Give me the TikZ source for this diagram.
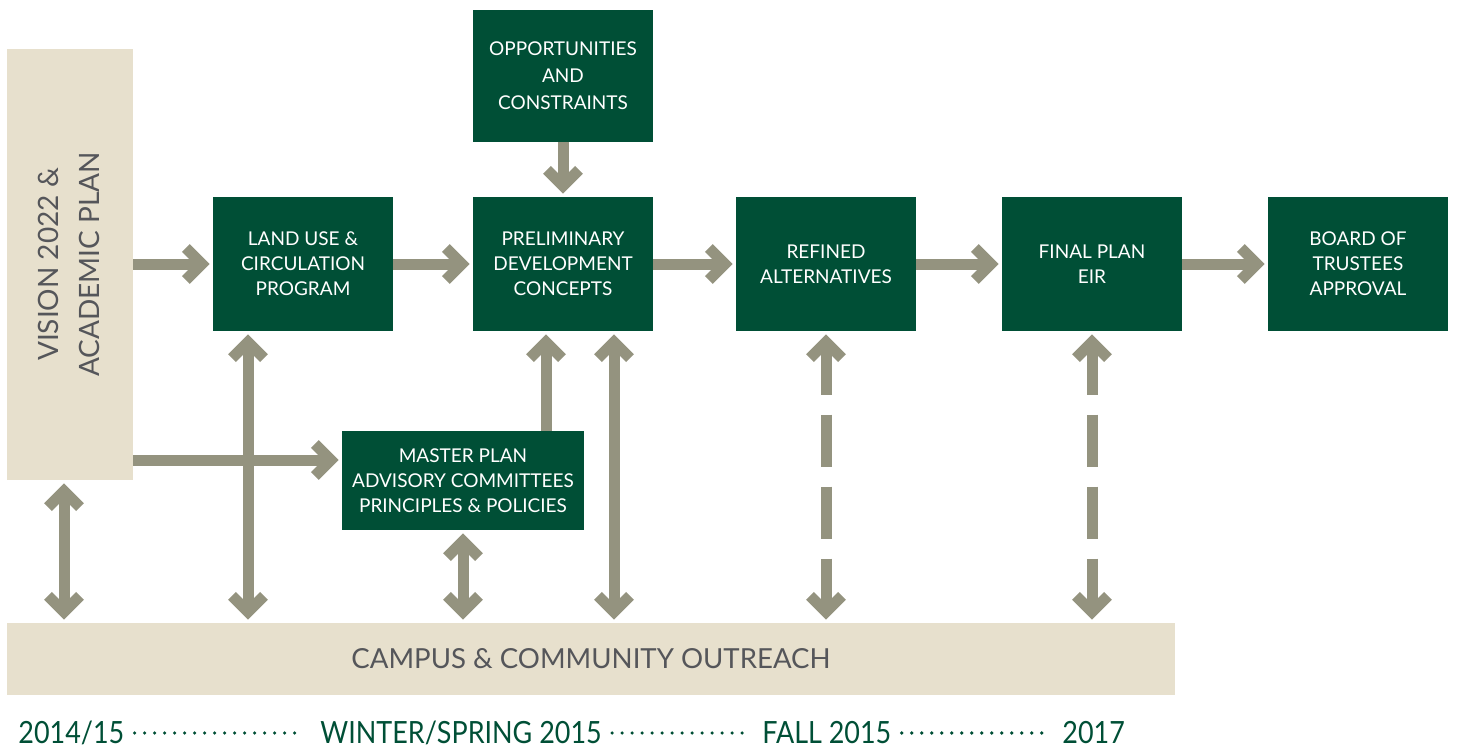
\documentclass[tikz,border=0pt]{standalone}
\usepackage{fontspec}
\setmainfont{Lato}
\newfontfamily\idofont[FakeStretch=0.88]{Lato}
\usetikzlibrary{arrows.meta}
\definecolor{zold}{HTML}{004F36}
\definecolor{homok}{HTML}{E7E0CD}
\definecolor{szurke}{HTML}{94937F}
\definecolor{felirat}{HTML}{55565A}

\begin{document}
\begin{tikzpicture}[x=0.5pt,y=-0.5pt,
>={Straight Barb[length=8pt,width=16pt,sharp]},
doboz/.style={rectangle,fill=zold,text=white,minimum width=90pt,minimum height=67pt,
  inner sep=0pt,align=center,font=\fontsize{9.5}{12.5}\selectfont},
hatter/.style={rectangle,fill=homok,text=felirat,inner sep=0pt,align=center,
  font=\fontsize{13.8}{20.5}\selectfont},
ido/.style={anchor=west,inner sep=0pt,text=zold,font=\idofont\fontsize{15.3}{15}\selectfont},
pontok/.style={draw=zold,line width=1.8pt,line cap=round,dash pattern=on 0pt off 5pt,
  shorten <=5pt,shorten >=9pt},
szaggatott/.style={dash pattern=on 23.5pt off 10pt on 26pt off 10pt on 26pt off 10pt on 60pt}]

\useasboundingbox (0,0) rectangle (1458,750);

\node[hatter,minimum width=63pt,minimum height=215.5pt](vision) at (70,264.5){};
\node[felirat,font=\fontsize{14}{20.5}\selectfont,align=center,rotate=90] at (69,264.5)
  {VISION 2022 \&\\ACADEMIC PLAN};
\node[hatter,minimum width=584pt,minimum height=36pt](outreach) at (591,659){CAMPUS \& COMMUNITY OUTREACH};

\node[doboz](landuse) at (303,264){LAND USE \&\\CIRCULATION\\PROGRAM};
\node[doboz](prelim) at (563,264){PRELIMINARY\\DEVELOPMENT\\CONCEPTS};
\node[doboz,minimum height=66pt,font=\fontsize{9.5}{13.5}\selectfont](opport) at (563,76)
  {OPPORTUNITIES\\AND\\CONSTRAINTS};
\node[doboz](refined) at (826,264){REFINED\\ALTERNATIVES};
\node[doboz](final) at (1092,264){FINAL PLAN\\EIR};
\node[doboz](board) at (1358,264){BOARD OF\\TRUSTEES\\APPROVAL};
\node[doboz,minimum width=121pt,minimum height=49.5pt](master) at (463,480.5)
  {MASTER PLAN\\ADVISORY COMMITTEES\\PRINCIPLES \& POLICIES};

\begin{scope}[draw=szurke,line width=5.5pt,shorten >=1.5pt]
\draw[->] (vision.east |- landuse.west)--(landuse.west);
\draw[->] (landuse)--(prelim);
\draw[->] (prelim)--(refined);
\draw[->] (refined)--(final);
\draw[->] (final)--(board);
\draw[->] (opport)--(prelim);
\draw[->] (vision.east |- 0,460)--([yshift=10.25pt]master.west);
\draw[->] ([xshift=41.5pt]master.north)--([xshift=41.5pt]master.north |- prelim.south);
\begin{scope}[shorten <=1.5pt]
\draw[<->] ([xshift=-3pt]vision.south)--([xshift=-3pt]vision.south |- outreach.north);
\draw[<->] ([xshift=-27.5pt]landuse.south)--([xshift=-27.5pt]landuse.south |- outreach.north);
\draw[<->] (master.south)--(master.south |- outreach.north);
\draw[<->] ([xshift=25.5pt]prelim.south)--([xshift=25.5pt]prelim.south |- outreach.north);
\draw[<->,szaggatott] (refined.south)--(refined.south |- outreach.north);
\draw[<->,szaggatott] (final.south)--(final.south |- outreach.north);
\end{scope}
\end{scope}

% idovonal
\node[ido](t1) at (18,733){2014/15};
\node[ido](t2) at (320,733){WINTER/SPRING 2015};
\node[ido](t3) at (762,733){FALL 2015};
\node[ido](t4) at (1062,733){2017};
\draw[pontok] (t1.east)--(t2.west);
\draw[pontok] (t2.east)--(t3.west);
\draw[pontok] (t3.east)--(t4.west);
\end{tikzpicture}
\end{document}
